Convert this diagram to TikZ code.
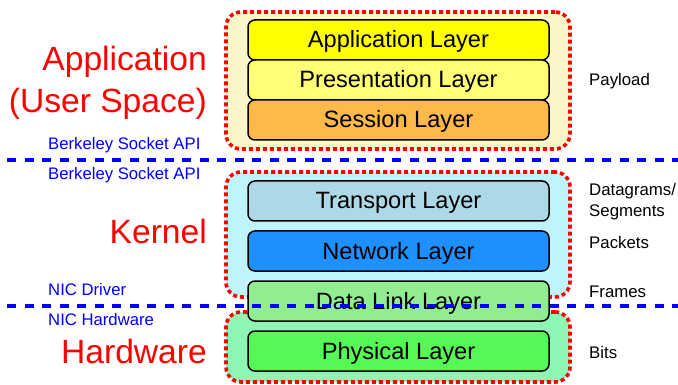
\documentclass[tikz,border=0pt]{standalone}
\usepackage{fontspec}
\setmainfont{Liberation Sans}
\begin{document}
\begin{tikzpicture}[x=1pt,y=-1pt,
  layer/.style={draw=black,line width=1.5pt,rounded corners=7pt,minimum width=301pt,minimum height=40pt,inner sep=0pt,text height=20pt,text depth=4pt,font=\fontsize{23.6}{27}\selectfont},
  group/.style={draw=red,line width=3.6pt,dash pattern=on 4pt off 3pt,rounded corners=15pt,inner sep=0pt},
  sep/.style={draw=blue,line width=4pt,dash pattern=on 9pt off 8.5pt},
  bluetxt/.style={text=blue,anchor=west,inner sep=0pt,font=\fontsize{16.7}{19}\selectfont},
  redtxt/.style={text=red,anchor=east,inner sep=0pt,font=\fontsize{33.6}{38}\selectfont},
  rtxt/.style={anchor=west,inner sep=0pt,font=\fontsize{16.8}{19}\selectfont}]
\definecolor{appfill}{HTML}{FAF6C8}
\definecolor{kerfill}{HTML}{BFF5FA}
\definecolor{hwfill}{HTML}{8FF5B5}
\definecolor{cApp}{HTML}{FFFF00}
\definecolor{cPres}{HTML}{FFFF77}
\definecolor{cSes}{HTML}{FDB94A}
\definecolor{cTra}{HTML}{ADD8E6}
\definecolor{cNet}{HTML}{1E90FF}
\definecolor{cDat}{HTML}{90EE90}
\definecolor{cPhy}{HTML}{55F855}
\useasboundingbox (0,0) rectangle (678,385);
% groups
\node[group,fill=appfill,minimum width=344pt,minimum height=137pt] (gapp) at (398,80.5) {};
\node[group,fill=kerfill,minimum width=344pt,minimum height=125pt] (gker) at (398,234.5) {};
\node[group,fill=hwfill,minimum width=344pt,minimum height=70pt] (ghw) at (398,347) {};
% layers
\node[layer,fill=cApp] (app) at (398.5,40) {Application Layer};
\node[layer,fill=cPres] (pres) at (398.5,80) {Presentation Layer};
\node[layer,fill=cSes] (ses) at (398.5,120) {Session Layer};
\node[layer,fill=cTra] (tra) at (398.5,201) {Transport Layer};
\node[layer,fill=cNet] (net) at (398.5,251) {Network Layer};
\node[layer,fill=cDat] (dat) at (398.5,301) {Data Link Layer};
\node[layer,fill=cPhy] (phy) at (398.5,351) {Physical Layer};
% separators
\coordinate (s1a) at (7,160);
\coordinate (s1b) at (678,160);
\coordinate (s2a) at (7,305.5);
\coordinate (s2b) at (678,305.5);
\draw[sep] (s1a) -- (s1b);
\draw[sep] (s2a) -- (s2b);
% blue labels
\node[bluetxt] (b1) at (48,145) {Berkeley Socket API};
\node[bluetxt] (b2) at (48,175) {Berkeley Socket API};
\node[bluetxt] (b3) at (48,290) {NIC Driver};
\node[bluetxt] (b4) at (48,320) {NIC Hardware};
% red labels
\node[redtxt] (r1) at (207,62) {Application};
\node[redtxt] (r2) at (207,104) {(User Space)};
\node[redtxt] (r3) at (207,231) {Kernel};
\node[redtxt] (r4) at (207,351) {Hardware};
% right labels
\node[rtxt] (p1) at (589,81) {Payload};
\node[rtxt] (p2) at (589,191) {Datagrams/};
\node[rtxt] (p3) at (589,212) {Segments};
\node[rtxt] (p4) at (589,242) {Packets};
\node[rtxt] (p5) at (589,292) {Frames};
\node[rtxt] (p6) at (589,352) {Bits};
\end{tikzpicture}
\end{document}
